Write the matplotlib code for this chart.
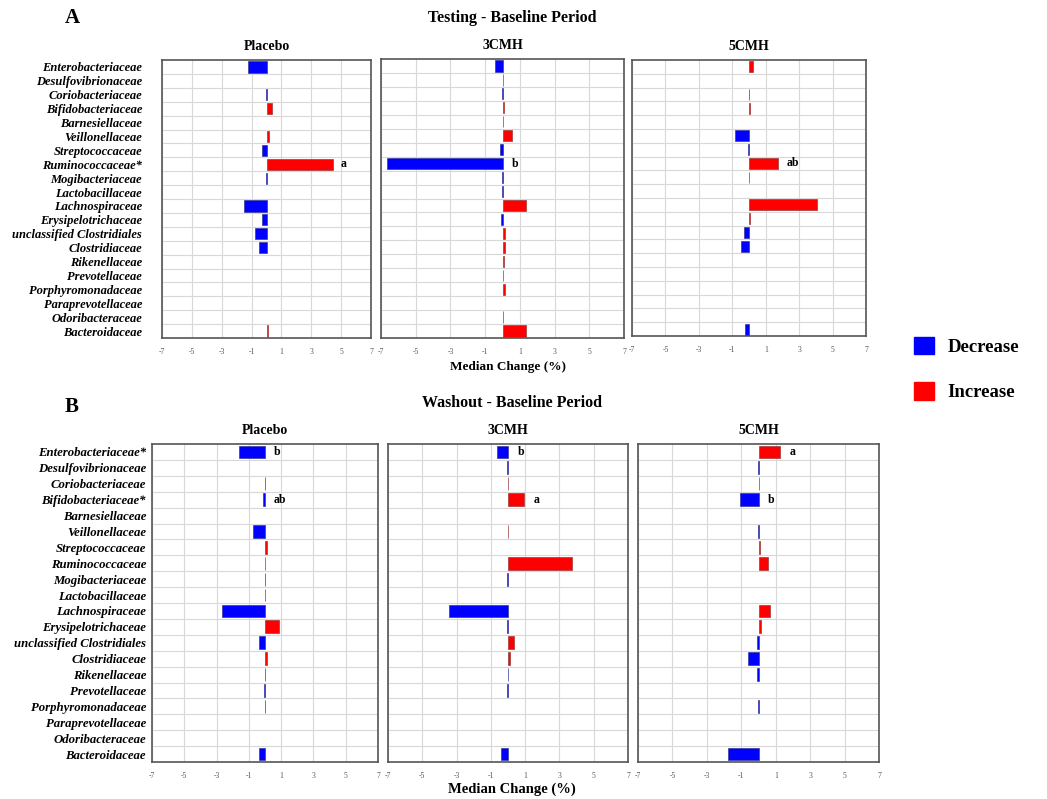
import matplotlib
matplotlib.use("Agg")
import matplotlib.pyplot as plt
from matplotlib.patches import Patch

SERIF = ["Liberation Serif", "DejaVu Serif"]
plt.rcParams["font.family"] = SERIF

FAMILIES_A = ["Enterobacteriaceae", "Desulfovibrionaceae", "Coriobacteriaceae", "Bifidobacteriaceae",
              "Barnesiellaceae", "Veillonellaceae", "Streptococcaceae", "Ruminococcaceae*",
              "Mogibacteriaceae", "Lactobacillaceae", "Lachnospiraceae", "Erysipelotrichaceae",
              "unclassified Clostridiales", "Clostridiaceae", "Rikenellaceae", "Prevotellaceae",
              "Porphyromonadaceae", "Paraprevotellaceae", "Odoribacteraceae", "Bacteroidaceae"]
FAMILIES_B = ["Enterobacteriaceae*", "Desulfovibrionaceae", "Coriobacteriaceae", "Bifidobacteriaceae*",
              "Barnesiellaceae", "Veillonellaceae", "Streptococcaceae", "Ruminococcaceae",
              "Mogibacteriaceae", "Lactobacillaceae", "Lachnospiraceae", "Erysipelotrichaceae",
              "unclassified Clostridiales", "Clostridiaceae", "Rikenellaceae", "Prevotellaceae",
              "Porphyromonadaceae", "Paraprevotellaceae", "Odoribacteraceae", "Bacteroidaceae"]

# median change (%) per family
A_PLACEBO = [-1.23, 0, -0.02, 0.40, 0, 0.15, -0.30, 4.44, -0.02, 0, -1.50, -0.30, -0.76, -0.52,
             0, 0, 0, 0, 0, 0.10]
A_3CMH = [-0.42, 0.03, -0.03, 0.08, 0.02, 0.54, -0.13, -6.65, -0.03, -0.03, 1.35, -0.10, 0.13, 0.13,
          0.08, 0.04, 0.15, 0, 0.02, 1.35]
A_5CMH = [0.22, 0, -0.02, 0.03, 0, -0.86, -0.08, 1.72, 0.02, 0, 4.05, 0.06, -0.28, -0.48,
          0, 0, 0, 0, 0, -0.22]
B_PLACEBO = [-1.60, 0, -0.02, -0.15, 0, -0.74, 0.12, 0.03, -0.02, 0.02, -2.69, 0.84, -0.40, 0.12,
             -0.02, -0.05, -0.02, 0, 0, -0.40]
B_3CMH = [-0.64, -0.04, 0.02, 0.93, 0, 0.02, 0, 3.72, -0.03, 0, -3.47, -0.08, 0.37, 0.10,
          -0.02, -0.03, 0, 0, 0, -0.41]
B_5CMH = [1.26, -0.03, 0.02, -1.07, 0, -0.02, 0.10, 0.58, 0, 0, 0.68, 0.12, -0.08, -0.60,
          -0.10, 0, -0.04, 0, 0, -1.75]

# significance letters: (family index, letter)
A_PLACEBO_SIG = [(7, "a")]
A_3CMH_SIG = [(7, "b")]
A_5CMH_SIG = [(7, "ab")]
B_PLACEBO_SIG = [(0, "b"), (3, "ab")]
B_3CMH_SIG = [(0, "b"), (3, "a")]
B_5CMH_SIG = [(0, "a"), (3, "b")]

GROUPS = ["Placebo", "3CMH", "5CMH"]
TICKS = [-7, -5, -3, -1, 1, 3, 5, 7]
C_DEC, C_INC = "#0000ff", "#ff0000"
E_DEC, E_INC = "#3a3a9a", "#9a3a3a"

W, H = 1047, 799


def px_axes(fig, x0, y0, x1, y1):
    return fig.add_axes([x0 / W, 1 - y1 / H, (x1 - x0) / W, (y1 - y0) / H])


def panel(ax, vals, sig, title, labels=None, lpad=8, lsize=9):
    n = len(vals)
    pos = list(range(n))
    cols = [C_INC if v > 0 else C_DEC for v in vals]
    edges = [E_INC if v > 0 else E_DEC for v in vals]
    widths = [v if v != 0 else float("nan") for v in vals]
    ax.barh(pos, widths, height=0.8, color=cols, edgecolor=edges, linewidth=0.5, zorder=3)
    for i, s in sig:
        ax.text(max(vals[i], 0) + 0.55, i, s, fontsize=8.5, fontweight="bold",
                ha="left", va="center", zorder=4)
    ax.set_xlim(-7, 7)
    ax.set_ylim(n - 0.5, -0.5)
    ax.set_xticks(TICKS)
    ax.set_xticklabels([str(t) for t in TICKS], fontsize=5.5, color="#555555")
    ax.set_yticks([k + 0.5 for k in range(n - 1)], minor=True)
    ax.set_yticks(pos)
    if labels is not None:
        ax.set_yticklabels(labels, fontsize=lsize, fontweight="bold", style="italic")
    else:
        ax.set_yticklabels([])
    ax.tick_params(axis="both", which="both", length=0)
    ax.tick_params(axis="x", pad=7)
    ax.tick_params(axis="y", pad=lpad)
    ax.grid(True, axis="x", which="major", color="#d8d8d8", lw=0.8, zorder=0)
    ax.grid(True, axis="y", which="minor", color="#d8d8d8", lw=0.8, zorder=0)
    for sp in ax.spines.values():
        sp.set_color("#555555")
        sp.set_linewidth(1.2)
    ax.set_title(title, fontsize=10, fontweight="bold", pad=7)


fig = plt.figure(figsize=(W / 100, H / 100), dpi=100)

# panel A
axA = [px_axes(fig, 162, 60, 371, 338), px_axes(fig, 381, 59, 624, 338), px_axes(fig, 632, 60, 866, 336)]
panel(axA[0], A_PLACEBO, A_PLACEBO_SIG, GROUPS[0], FAMILIES_A, lpad=14.4, lsize=9)
panel(axA[1], A_3CMH, A_3CMH_SIG, GROUPS[1])
panel(axA[2], A_5CMH, A_5CMH_SIG, GROUPS[2])

# panel B
axB = [px_axes(fig, 152, 444, 378, 762), px_axes(fig, 388, 444, 628, 762), px_axes(fig, 638, 444, 879, 762)]
panel(axB[0], B_PLACEBO, B_PLACEBO_SIG, GROUPS[0], FAMILIES_B, lpad=4.3, lsize=9.2)
panel(axB[1], B_3CMH, B_3CMH_SIG, GROUPS[1])
panel(axB[2], B_5CMH, B_5CMH_SIG, GROUPS[2])

fig.text(65 / W, 1 - 18 / H, "A", fontsize=15, fontweight="bold", ha="left", va="center")
fig.text(512 / W, 1 - 18 / H, "Testing - Baseline Period", fontsize=11.5, fontweight="bold",
         ha="center", va="center")
fig.text(65 / W, 1 - 407 / H, "B", fontsize=15, fontweight="bold", ha="left", va="center")
fig.text(512 / W, 1 - 403 / H, "Washout - Baseline Period", fontsize=11.5, fontweight="bold",
         ha="center", va="center")

fig.text(508 / W, 1 - 367 / H, "Median Change (%)", fontsize=9.5, fontweight="bold",
         ha="center", va="center")
fig.text(512 / W, 1 - 789 / H, "Median Change (%)", fontsize=10.5, fontweight="bold",
         ha="center", va="center")

handles = [Patch(facecolor=C_DEC, edgecolor=C_DEC), Patch(facecolor=C_INC, edgecolor=C_INC)]
fig.legend(handles, ["Decrease", "Increase"], loc="upper left", bbox_to_anchor=(897 / W, 1 - 320 / H),
           frameon=False, prop={"size": 13.5, "weight": "bold"}, handlelength=1.05, handleheight=1.05,
           labelspacing=1.4, handletextpad=0.75)

fig.savefig("out.png", dpi=100)
